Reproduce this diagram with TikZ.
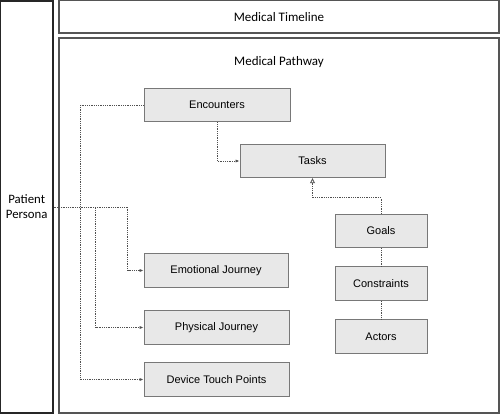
\documentclass[tikz,border=0pt]{standalone}
\usepackage{fontspec}
\setmainfont{Liberation Sans}
\newfontfamily\titlefont{Carlito}
\usepackage[RGB]{xcolor}
\usepackage{tikz}
\usetikzlibrary{arrows.meta}
\definecolor{boxfill}{RGB}{232,232,232}
\definecolor{boxline}{RGB}{120,120,120}
\definecolor{frameline}{RGB}{85,85,85}
\definecolor{wire}{RGB}{80,80,80}
\newcommand{\stepbox}[4]{\node[stepnode, minimum width=#3] (#1) at (#2) {#4};}
\tikzset{
  frame/.style={draw=frameline, line width=1.1pt, inner sep=0pt},
  stepnode/.style={draw=boxline, fill=boxfill, line width=0.9pt, minimum height=33.5pt, inner sep=0pt, font=\fontsize{11}{12}\selectfont},
  conn/.style={draw=wire, densely dotted, line width=0.8pt},
  tip/.style={-{Latex[length=4pt,width=3.2pt]}},
}

\begin{document}
\begin{tikzpicture}[x=1pt, y=-1pt]
\useasboundingbox (0,0) rectangle (500,415);
\node[frame, draw=black!85, minimum width=52.5pt, minimum height=412pt, align=center, font=\titlefont\fontsize{12.8}{15}\selectfont] (persona) at (26.75,207) {Patient\\Persona};
    \node[frame, minimum width=440pt, minimum height=32.5pt, font=\titlefont\fontsize{13}{15}\selectfont] (timeline) at (279,16.75) {Medical Timeline};
    \node[frame, minimum width=440pt, minimum height=375pt] (pathway) at (279,225.5) {};
    \node[font=\titlefont\fontsize{13}{15}\selectfont] (pathtitle) at (279,62) {Medical Pathway};
\stepbox{enc}{217,105}{146pt}{Encounters}\stepbox{tasks}{312.5,161}{145pt}{Tasks}
\stepbox{emo}{216,270.5}{144pt}{Emotional Journey}\stepbox{phys}{216.5,327.5}{145pt}{Physical Journey}\stepbox{dev}{216.5,379.5}{145pt}{Device Touch Points}
\foreach \n/\y/\t in {goals/231/Goals,cons/283.5/Constraints,actors/336.5/Actors}{
    \stepbox{\n}{381,\y}{92pt}{\t}
}
\draw[conn, tip] (enc.south) |- (tasks.west);
    \draw[conn, -{Triangle[open,length=5pt,width=5pt]}] (goals.north) -- ++(0,-16) -| (tasks.south);
    \draw[conn] (goals) -- (cons) -- (actors);
    \draw[conn, tip] (persona.east) -- ++(74,0) |- (emo.west);
    \draw[conn, tip] (persona.east) -- ++(42,0) |- (phys.west);
    \draw[conn, tip] (enc.west) -- ++(-63,0) |- (dev.west);
\end{tikzpicture}
\end{document}
